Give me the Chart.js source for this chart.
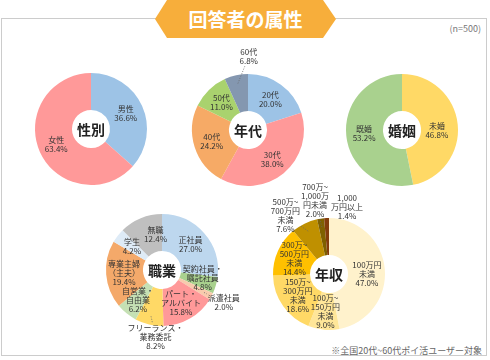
<!DOCTYPE html>
<html>
<head>
<meta charset="utf-8">
<script src="https://cdn.jsdelivr.net/npm/chart.js@4"></script>
<style>
  body { margin: 0; background: #fff; font-family: "Noto Sans CJK JP", sans-serif; }
  #wrap { position: relative; width: 490px; height: 360px; overflow: hidden; }
  #frame { position: absolute; left: 1px; top: 18px; width: 486px; height: 338px; border: 1px solid #ccc; box-sizing: border-box; }
  #banner { position: absolute; left: 155px; top: 0; width: 181px; height: 38px; background: #F7AE3B;
            clip-path: polygon(0 50%, 12px 0, calc(100% - 13px) 0, 100% 50%, calc(100% - 13px) 100%, 12px 100%); 
            color: #fff; font-weight: bold; font-size: 19px; text-align: center; line-height: 38px; }
  #n { position: absolute; right: 9px; top: 22px; font-size: 9px; color: #777; }
  #note { position: absolute; right: 8px; top: 344px; font-size: 9px; color: #666; }
  canvas { position: absolute; }
</style>
</head>
<body>
<div id="wrap">
  <div id="frame"></div>
  <div id="banner">回答者の属性</div>
  <div id="n">(n=500)</div>
  <div id="note">※全国20代~60代ポイ活ユーザー対象</div>
  <canvas id="c1" width="200" height="200"></canvas>
  <canvas id="c2" width="200" height="200"></canvas>
  <canvas id="c3" width="200" height="200"></canvas>
  <canvas id="c4" width="200" height="200"></canvas>
  <canvas id="c5" width="200" height="200"></canvas>
</div>
<script>
// data
const genderLabels = ['男性', '女性'];
const genderValues = [36.6, 63.4];

const ageLabels = ['20代', '30代', '40代', '50代', '60代'];
const ageValues = [20.0, 38.0, 24.2, 11.0, 6.8];

const maritalLabels = ['未婚', '既婚'];
const maritalValues = [46.8, 53.2];

const jobLabels = ['正社員', '契約社員・\n嘱託社員', '派遣社員', 'パート・\nアルバイト', 'フリーランス・\n業務委託',
                   '自営業・\n自由業', '専業主婦\n（主夫）', '学生', '無職'];
const jobValues = [27.0, 4.8, 2.0, 15.8, 8.2, 6.2, 19.4, 4.2, 12.4];

const incomeLabels = ['100万円\n未満', '100万~\n150万円\n未満', '150万~\n300万円\n未満', '300万~\n500万円\n未満',
                      '500万~\n700万円\n未満', '700万~\n1,000万\n円未満', '1,000\n万円以上'];
const incomeValues = [47.0, 9.0, 18.6, 14.4, 7.6, 2.0, 1.4];

// draws "label\nxx.x%" on each slice and the title in the hole
const sliceLabels = {
    id: 'sliceLabels',
    afterDatasetsDraw(chart, args, opts) {
        const ctx = chart.ctx;
        const meta = chart.getDatasetMeta(0);
        const vals = chart.data.datasets[0].data;
        ctx.save();
        ctx.font = '8px "Noto Sans CJK JP"';
        ctx.textAlign = 'center';
        ctx.textBaseline = 'middle';
        const lh = 9;
        meta.data.forEach((arc, i) => {
            const mid = (arc.startAngle + arc.endAngle) / 2;
            const R = arc.outerRadius;
            const p = (opts.place && opts.place[i]) || {};
            const k = p.r || 0.68;
            const x = arc.x + Math.cos(mid) * R * k + (p.dx || 0);
            const y = arc.y + Math.sin(mid) * R * k + (p.dy || 0);
            const lines = (chart.data.labels[i] + '\n' + vals[i].toFixed(1) + '%').split('\n');
            const hh = lines.length * lh / 2 + 1;
            let hw = 0;
            lines.forEach(l => { hw = Math.max(hw, ctx.measureText(l).width / 2 + 1); });

            if (p.line) {
                const sx = arc.x + Math.cos(mid) * R * 0.85;
                const sy = arc.y + Math.sin(mid) * R * 0.85;
                const vx = x - sx, vy = y - sy;
                const f = Math.min(vx ? hw / Math.abs(vx) : 99, vy ? hh / Math.abs(vy) : 99);
                const t = 1 - f;
                ctx.strokeStyle = '#666';
                ctx.lineWidth = 0.8;
                ctx.setLineDash([1, 1.5]);
                ctx.beginPath();
                ctx.moveTo(sx, sy);
                ctx.lineTo(sx + vx * t, sy + vy * t);
                ctx.stroke();
                ctx.setLineDash([]);
            }

            ctx.fillStyle = '#333';
            lines.forEach((l, j) => {
                ctx.fillText(l, x, y - (lines.length - 1) * lh / 2 + j * lh);
            });
        });
        const a = meta.data[0];
        ctx.font = 'bold 14px "Noto Sans CJK JP"';
        ctx.fillStyle = '#222';
        ctx.fillText(opts.title, a.x, a.y + 1);
        ctx.restore();
    }
};

function makePie(id, cx, cy, labels, values, colors, title, place) {
    const el = document.getElementById(id);
    el.style.left = (cx - 100) + 'px';
    el.style.top = (cy - 100) + 'px';
    return new Chart(el, {
        type: 'doughnut',
        data: {
            labels: labels,
            datasets: [{
                data: values,
                backgroundColor: colors,
                borderWidth: 0
            }]
        },
        options: {
            responsive: false,
            animation: false,
            cutout: '34%',
            layout: { padding: 44 },
            events: [],
            plugins: {
                legend: { display: false },
                tooltip: { enabled: false },
                sliceLabels: { title: title, place: place || {} }
            }
        },
        plugins: [sliceLabels]
    });
}

makePie('c1', 91, 129, genderLabels, genderValues, ['#9DC3E6', '#FF9999'], '性別');

makePie('c2', 248, 130, ageLabels, ageValues,
    ['#9DC3E6', '#FF9999', '#F6AA66', '#A9D26E', '#8497B0'], '年代',
    { 4: { r: 1.2, dx: 15, dy: -8, line: true } });

makePie('c3', 402, 130, maritalLabels, maritalValues, ['#FFD966', '#A9D18E'], '婚姻',
    { 0: { dx: -3, dy: 4 } });

makePie('c4', 162, 270, jobLabels, jobValues,
    ['#BDD7EE', '#A9D18E', '#F8CBAD', '#FF9999', '#FFD966', '#C5E0B4', '#F4A96A', '#DEEBF7', '#BFBFBF'], '職業',
    {
        1: { dx: 4, dy: -2 },
        2: { r: 1.25, line: true },
        4: { r: 1.2, dx: 9, dy: 2, line: true },
        8: { dx: 8 }
    });

makePie('c5', 329, 274, incomeLabels, incomeValues,
    ['#FFF2CC', '#FFE699', '#FFD966', '#FFC000', '#BF9000', '#7F6000', '#843C0C'], '年収',
    {
        0: { dy: 4 },
        4: { r: 1.25, dx: -13, dy: 4, line: true },
        5: { r: 1.3, dx: -3, dy: -2, line: true },
        6: { r: 1.2, dx: 21 }
    });
</script>
</body>
</html>
